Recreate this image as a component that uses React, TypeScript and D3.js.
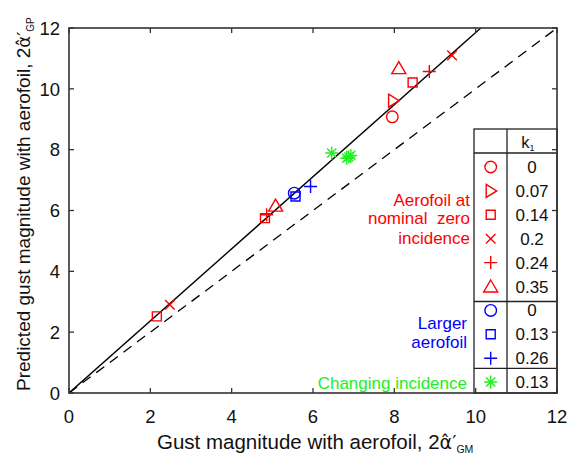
import React from "react";
import * as d3 from "d3";

const W = 569;
const H = 462;

const xTicks = [0, 2, 4, 6, 8, 10, 12];
const yTicks = [0, 2, 4, 6, 8, 10, 12];

type Sym = "circle" | "rtri" | "square" | "x" | "plus" | "tri" | "star";

// Aerofoil at nominal zero incidence (red)
const redCircle = [[7.95, 9.08]];
const redRTri = [[7.97, 9.61]];
const redSquare = [[8.45, 10.21], [4.82, 5.75], [2.16, 2.52]];
const redCross = [[9.42, 11.1], [2.48, 2.9]];
const redPlus = [[8.86, 10.57], [4.86, 5.86]];
const redTri = [[8.11, 10.68], [5.08, 6.16]];
// Larger aerofoil (blue)
const blueCircle = [[5.54, 6.57]];
const blueSquare = [[5.57, 6.46]];
const bluePlus = [[5.94, 6.79]];
// Changing incidence (green)
const greenStar = [[6.46, 7.89], [6.83, 7.72], [6.88, 7.76], [6.93, 7.81]];

const RED = "#ff0000";
const BLUE = "#0000ff";
const GREEN = "#22ee22";

const series: { sym: Sym; color: string; k1: string; pts: number[][] }[] = [
  { sym: "circle", color: RED, k1: "0", pts: redCircle },
  { sym: "rtri", color: RED, k1: "0.07", pts: redRTri },
  { sym: "square", color: RED, k1: "0.14", pts: redSquare },
  { sym: "x", color: RED, k1: "0.2", pts: redCross },
  { sym: "plus", color: RED, k1: "0.24", pts: redPlus },
  { sym: "tri", color: RED, k1: "0.35", pts: redTri },
  { sym: "circle", color: BLUE, k1: "0", pts: blueCircle },
  { sym: "square", color: BLUE, k1: "0.13", pts: blueSquare },
  { sym: "plus", color: BLUE, k1: "0.26", pts: bluePlus },
  { sym: "star", color: GREEN, k1: "0.13", pts: greenStar },
];

const fitSlope = 1.185;

function symPath(s: Sym): string {
  switch (s) {
    case "circle": {
      const p = d3.path();
      p.arc(0, 0, 5.8, 0, Math.PI * 2);
      p.closePath();
      return p.toString();
    }
    case "rtri":
      return "M-4.5,-6.5L6,0L-4.5,6.5Z";
    case "square":
      return "M-4.5,-4.5H4.5V4.5H-4.5Z";
    case "x":
      return "M-4.8,-4.8L4.8,4.8M-4.8,4.8L4.8,-4.8";
    case "plus":
      return "M-6.5,0H6.5M0,-6.5V6.5";
    case "tri":
      return "M0,-6.5L7,5.5L-7,5.5Z";
    case "star": {
      let d = "";
      for (let i = 0; i < 4; i++) {
        const a = (i * Math.PI) / 4;
        const dx = 6.5 * Math.cos(a);
        const dy = 6.5 * Math.sin(a);
        d += `M${-dx},${-dy}L${dx},${dy}`;
      }
      return d;
    }
  }
}

export default function App() {
  const left = 69, right = 557, top = 28, bottom = 393;
  const x = d3.scaleLinear().domain([0, 12]).range([left, right]);
  const y = d3.scaleLinear().domain([0, 12]).range([bottom, top]);
  const line = d3
    .line<number[]>()
    .x((d) => x(d[0]))
    .y((d) => y(d[1]));
  const fitEnd = 12 / fitSlope;
  const fitLine = line([[0, 0], [fitEnd, 12]]) || "";
  const diagLine = line([[0, 0], [12, 12]]) || "";
  const axisColor = "#333";
  const tl = 5;
  const font = "'Liberation Sans', Arial, sans-serif";
  const greek = "'DejaVu Sans', sans-serif";

  // legend layout
  const lgL = 474, lgM = 507, lgR = right, lgT = 129, lgHead = 153;
  const rowY = (i: number) => 167 + i * 23.9;
  const div1 = 301.5, div2 = 368.3;
  const symX = 490.7, valX = 532;

  return (
    <svg width={W} height={H} style={{ position: "absolute", left: 0, top: 0 }} fontFamily={font}>
      <rect width={W} height={H} fill="#fff" />
      <defs>
        <clipPath id="plotclip">
          <rect x={left} y={top} width={right - left} height={bottom - top} />
        </clipPath>
      </defs>
      {/* reference lines */}
      <g clipPath="url(#plotclip)">
        <path d={diagLine} stroke="#000" strokeWidth={1.3} strokeDasharray="10,7" fill="none" />
        <path d={fitLine} stroke="#000" strokeWidth={1.4} fill="none" />
      </g>
      {/* data */}
      {series.map((s, i) =>
        s.pts.map((p, j) => (
          <path
            key={`${i}-${j}`}
            d={symPath(s.sym)}
            transform={`translate(${x(p[0])},${y(p[1])})`}
            fill="none"
            stroke={s.color}
            strokeWidth={1.4}
          />
        ))
      )}
      {/* ticks */}
      {xTicks.map((t) => (
        <g key={`xt${t}`}>
          <line x1={x(t)} x2={x(t)} y1={bottom} y2={bottom - tl} stroke={axisColor} strokeWidth={1.3} />
          <line x1={x(t)} x2={x(t)} y1={top} y2={top + tl} stroke={axisColor} strokeWidth={1.3} />
          <text x={x(t)} y={423} textAnchor="middle" fontSize={18.5} fill="#111">{t}</text>
        </g>
      ))}
      {yTicks.map((t) => (
        <g key={`yt${t}`}>
          <line x1={left} x2={left + tl} y1={y(t)} y2={y(t)} stroke={axisColor} strokeWidth={1.3} />
          <line x1={right} x2={right - tl} y1={y(t)} y2={y(t)} stroke={axisColor} strokeWidth={1.3} />
          <text x={60} y={y(t) + 6.8} textAnchor="end" fontSize={18.5} fill="#111">{t}</text>
        </g>
      ))}
      {/* legend table */}
      <g stroke="#222" strokeWidth={1.3} fill="none">
        <rect x={lgL} y={lgT} width={lgR - lgL} height={bottom - lgT} />
        <line x1={lgM} x2={lgM} y1={lgT} y2={bottom} />
        <line x1={lgL} x2={lgR} y1={lgHead} y2={lgHead} />
        <line x1={lgL} x2={lgR} y1={div1} y2={div1} />
        <line x1={lgL} x2={lgR} y1={div2} y2={div2} />
      </g>
      <text x={valX - 4} y={148} textAnchor="middle" fontSize={16.5} fill="#111">
        k<tspan fontSize={9} dy={3}>1</tspan>
      </text>
      {series.map((s, i) => {
        const cy = i === 9 ? 382 : rowY(i);
        return (
          <g key={`lg${i}`}>
            <path d={symPath(s.sym)} transform={`translate(${symX},${cy})`} fill="none" stroke={s.color} strokeWidth={1.4} />
            <text x={valX} y={cy + 6} textAnchor="middle" fontSize={17} fill="#111">{s.k1}</text>
          </g>
        );
      })}
      {/* group labels */}
      <g fontSize={17} textAnchor="end">
        <text x={470} y={206} fill={RED}>Aerofoil at</text>
        <text x={470} y={224} fill={RED} style={{ whiteSpace: "pre" }}>nominal  zero</text>
        <text x={470} y={244} fill={RED}>incidence</text>
        <text x={467} y={329} fill={BLUE}>Larger</text>
        <text x={467} y={348} fill={BLUE}>aerofoil</text>
        <text x={467} y={389} fill={GREEN}>Changing incidence</text>
      </g>
      {/* axes frame */}
      <rect x={left} y={top} width={right - left} height={bottom - top} fill="none" stroke={axisColor} strokeWidth={1.6} />
      {/* axis titles */}
      <text x={157} y={449} fontSize={20.5} fill="#111">
        Gust magnitude with aerofoil, 2<tspan fontFamily={greek} fontSize={19}>α̂′</tspan>
        <tspan fontSize={10.5} dy={4}>GM</tspan>
      </text>
      <text transform="translate(30,391) rotate(-90)" fontSize={19} fill="#111">
        Predicted gust magnitude with aerofoil, 2<tspan fontFamily={greek} fontSize={18}>α̂′</tspan>
        <tspan fontSize={10} dy={4}>GP</tspan>
      </text>
    </svg>
  );
}
